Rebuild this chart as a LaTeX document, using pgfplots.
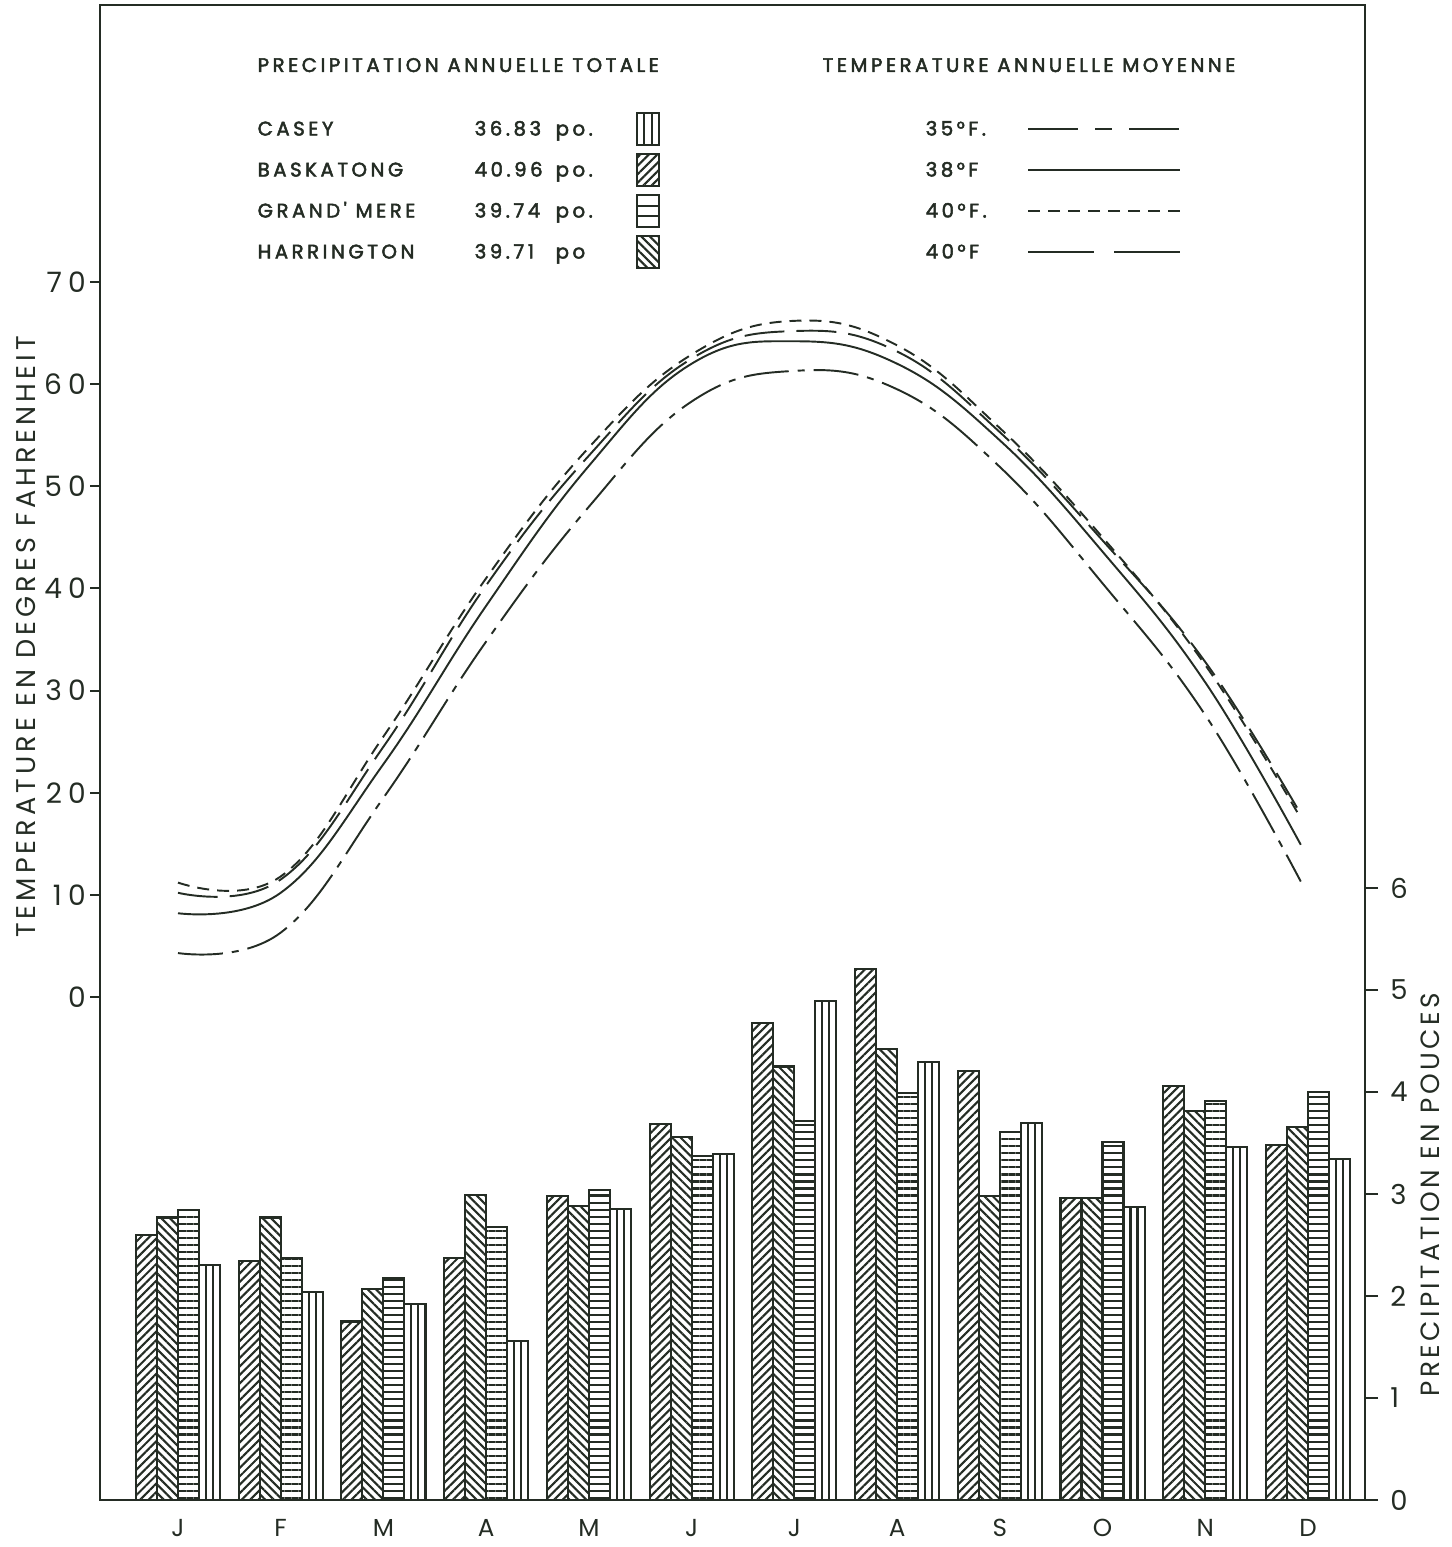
\documentclass[border=0pt]{standalone}
\usepackage{pgfplots}
\usepackage{pgfplotstable}
\pgfplotsset{compat=1.18}
\usepackage{fontspec}
\usetikzlibrary{patterns.meta}
\setmainfont{Poppins}
\newfontfamily\tickfont[LetterSpace=22]{Poppins}
\newfontfamily\labfont[LetterSpace=15]{Poppins}
\newfontfamily\rlabfont[LetterSpace=13]{Poppins}
\newfontfamily\legfont[LetterSpace=18,FakeBold=2.5]{Poppins}
\definecolor{ink}{RGB}{36,44,36}

% precipitation (inches) per month: J..D
\pgfplotstableread{
m  bask harr gm   casey
0  2.60 2.77 2.84 2.30
1  2.34 2.77 2.37 2.04
2  1.75 2.07 2.18 1.92
3  2.37 2.99 2.68 1.56
4  2.98 2.88 3.04 2.85
5  3.69 3.56 3.37 3.39
6  4.68 4.25 3.72 4.89
7  5.21 4.42 3.99 4.29
8  4.21 2.98 3.61 3.70
9  2.96 2.96 3.51 2.87
10 4.06 3.81 3.91 3.46
11 3.48 3.66 4.00 3.34
}\preciptab

% temperature (F) per month
\pgfplotstableread{
m     gm   harr bask casey
0     11.2 10.2 8.2  4.3
1     11.8 11.5 10.2 6.3
2     25.5 24.5 22.8 19.5
3     41.0 40.3 38.3 34.8
4     53.8 53.0 52.0 48.0
5     62.9 62.5 62.0 58.3
6     66.2 65.2 64.2 61.3
7     63.8 63.2 62.0 59.5
8     55.7 55.3 54.5 51.9
9     45.0 44.7 43.6 40.5
10    32.5 32.8 30.8 27.6
10.93 17.5 17.9 14.9 11.3
}\temptab

\tikzset{
  casey/.style={dash pattern=on 4.5mm off 0.9mm on 0.7mm off 0.9mm},
  harr/.style={dash pattern=on 4mm off 1.2mm},
  gm/.style={dash pattern=on 1.2mm off 0.8mm},
}

\begin{document}
\begin{tikzpicture}
\begin{axis}[
  at={(0,0)}, anchor=south west,
  scale only axis, width=126.5mm, height=149.5mm,
  xmin=-0.759, xmax=11.555, ymin=0, ymax=14.657,
  axis line style={ink, line width=0.8pt},
  xtick={0,...,11}, xticklabels={J,F,M,A,M,J,J,A,S,O,N,D},
  x tick style={draw=none},
  ytick={0,...,6}, ytick pos=right, yticklabel pos=right,
  tick align=outside, major tick length=1.3mm,
  y tick style={ink, line width=0.6pt},
  ticklabel style={font=\tickfont\fontsize{7.8}{8}\selectfont, text=ink},
  xticklabel style={font=\tickfont\fontsize{7}{8}\selectfont, yshift=0.6mm},
  /pgf/number format/assume math mode=true,
  ybar, bar width=0.2045,
  every axis plot/.append style={draw=ink, line width=0.6pt},
]
\addplot[bar shift=-0.30675, pattern={Lines[angle=45,distance=1.7pt,line width=0.6pt]}, pattern color=ink] table[x=m,y=bask]{\preciptab};
\addplot[bar shift=-0.10225, pattern={Lines[angle=-45,distance=1.7pt,line width=0.6pt]}, pattern color=ink] table[x=m,y=harr]{\preciptab};
\addplot[bar shift=0.10225, pattern={Lines[angle=0,distance=2pt,line width=0.6pt]}, pattern color=ink] table[x=m,y=gm]{\preciptab};
\addplot[bar width=0.068167, bar shift=0.23858, fill=white] table[x=m,y=casey]{\preciptab};
\addplot[bar width=0.068167, bar shift=0.30675, fill=white] table[x=m,y=casey]{\preciptab};
\addplot[bar width=0.068167, bar shift=0.37492, fill=white] table[x=m,y=casey]{\preciptab};
\end{axis}

\begin{axis}[
  at={(0,0)}, anchor=south west,
  scale only axis, width=126.5mm, height=149.5mm,
  xmin=-0.759, xmax=11.555, ymin=-49.25, ymax=97.12,
  axis x line=none, axis y line*=left,
  axis line style={ink, line width=0.8pt, -},
  xtick=\empty,
  ytick={0,10,...,70},
  tick align=outside, major tick length=1mm,
  y tick style={ink, line width=0.6pt},
  ticklabel style={font=\tickfont\fontsize{8}{8}\selectfont, text=ink},
  yticklabel style={inner xsep=0pt, xshift=-0.35mm},
  /pgf/number format/assume math mode=true,
  every axis plot/.append style={ink, line width=0.55pt, smooth, tension=0.7, no marks},
]
\addplot[gm] table[x=m,y=gm]{\temptab};
\addplot[harr] table[x=m,y=harr]{\temptab};
\addplot[solid] table[x=m,y=bask]{\temptab};
\addplot[casey] table[x=m,y=casey]{\temptab};
\end{axis}

% axis titles
\node[rotate=90, text=ink, font=\labfont\fontsize{7.7}{9}\selectfont] at (-7.4mm,86.3mm) {TEMPERATURE EN DEGRES FAHRENHEIT};
\node[rotate=90, text=ink, font=\rlabfont\fontsize{7.5}{9}\selectfont] at (133mm,30.5mm) {PRECIPITATION EN POUCES};

% legend
\begin{scope}[text=ink, font=\legfont\fontsize{5.6}{6}\selectfont, every node/.style={inner sep=0pt}]
\node[anchor=base west] at (15.7mm,142.8mm) {PRECIPITATION ANNUELLE TOTALE};
\node[anchor=base west] at (72.2mm,142.8mm) {TEMPERATURE ANNUELLE MOYENNE};
\node[anchor=base west] at (15.7mm,136.45mm) {CASEY};
\node[anchor=base west] at (15.7mm,132.35mm) {BASKATONG};
\node[anchor=base west] at (15.7mm,128.25mm) {GRAND' MERE};
\node[anchor=base west] at (15.7mm,124.15mm) {HARRINGTON};
\node[anchor=base west] at (37.4mm,136.45mm) {36.83};
\node[anchor=base west] at (37.4mm,132.35mm) {40.96};
\node[anchor=base west] at (37.4mm,128.25mm) {39.74};
\node[anchor=base west] at (37.4mm,124.15mm) {39.71};
\node[anchor=base west] at (45.5mm,136.45mm) {po.};
\node[anchor=base west] at (45.5mm,132.35mm) {po.};
\node[anchor=base west] at (45.5mm,128.25mm) {po.};
\node[anchor=base west] at (45.5mm,124.15mm) {po};
\node[anchor=base west] at (82.5mm,136.45mm) {35°F.};
\node[anchor=base west] at (82.5mm,132.35mm) {38°F};
\node[anchor=base west] at (82.5mm,128.25mm) {40°F.};
\node[anchor=base west] at (82.5mm,124.15mm) {40°F};
\end{scope}
\begin{scope}[draw=ink, line width=0.6pt]
\draw (53.7mm,135.5mm) rectangle (55.9mm,138.7mm);
\draw (54.43mm,135.5mm) -- (54.43mm,138.7mm) (55.17mm,135.5mm) -- (55.17mm,138.7mm);
\draw[pattern={Lines[angle=45,distance=1.7pt,line width=0.6pt]}, pattern color=ink] (53.7mm,131.4mm) rectangle (55.9mm,134.6mm);
\draw (53.7mm,127.3mm) rectangle (55.9mm,130.5mm);
\draw (53.7mm,128.37mm) -- (55.9mm,128.37mm) (53.7mm,129.43mm) -- (55.9mm,129.43mm);
\draw[pattern={Lines[angle=-45,distance=1.7pt,line width=0.6pt]}, pattern color=ink] (53.7mm,123.2mm) rectangle (55.9mm,126.4mm);
\draw[line width=0.55pt, dash pattern=on 5mm off 1.7mm on 1.7mm off 1.7mm] (92.8mm,137.1mm) -- (108mm,137.1mm);
\draw[line width=0.55pt] (92.8mm,133.0mm) -- (108mm,133.0mm);
\draw[line width=0.55pt, gm] (92.8mm,128.9mm) -- (108mm,128.9mm);
\draw[line width=0.55pt, dash pattern=on 6.6mm off 2mm] (92.8mm,124.8mm) -- (108mm,124.8mm);
\end{scope}

\pgfresetboundingbox
\path (-10mm,-4.7mm) rectangle (135.2mm,150mm);
\end{tikzpicture}
\end{document}
